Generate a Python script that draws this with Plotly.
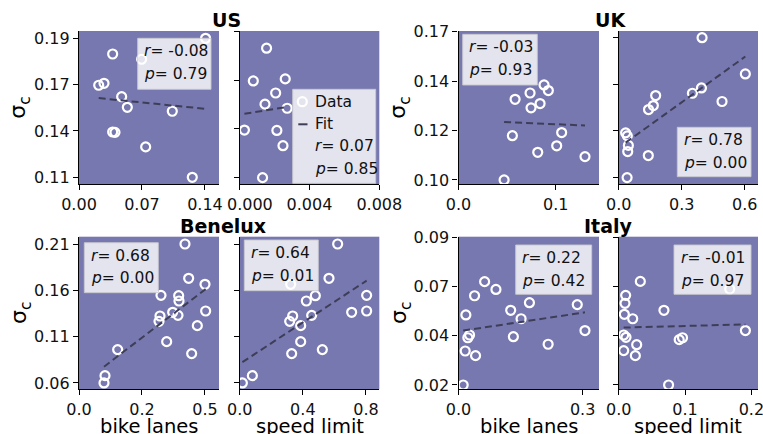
import numpy as np
import plotly.graph_objects as go

W, H = 763, 434

# ---------------- data ----------------
us_sigma = [0.1945, 0.1849, 0.1817, 0.1670, 0.1658, 0.1588, 0.1523, 0.1499, 0.1372, 0.1370, 0.1281, 0.1095]
us_bike = [0.1407, 0.0374, 0.0696, 0.0278, 0.0219, 0.0474, 0.0537, 0.1037, 0.0374, 0.0400, 0.0741, 0.1259]
us_speed = [None, 0.00154, None, 0.00261, 0.00078, 0.00206, 0.00145, 0.00272, 0.00027, 0.00213, 0.00248, 0.00131]

uk_sigma = [0.1660, 0.1489, 0.1423, 0.1398, 0.1387, 0.1359, 0.1340, 0.1321, 0.1211, 0.1197, 0.1152, 0.1123, 0.1104, 0.1000]
uk_bike = [None, None, 0.0880, 0.0924, 0.0736, 0.0582, 0.0839, 0.0746, 0.1061, 0.0554, 0.1010, 0.0815, 0.1301, 0.0469]
uk_speed = [0.397, 0.603, 0.394, 0.351, 0.176, 0.492, 0.165, 0.142, 0.033, 0.041, 0.046, 0.043, 0.141, 0.040]

ben_sigma = [0.2100, 0.1730, 0.1665, 0.1546, 0.1542, 0.1485, 0.1377, 0.1363, 0.1330, 0.1323, 0.1265,
             0.1219, 0.1046, 0.0960, 0.0917, 0.0679, 0.0600]
ben_bike = [0.4206, 0.4352, 0.5000, 0.3254, 0.3955, 0.3968, 0.5026, 0.3717, 0.3929, 0.3214, 0.3175,
            0.4696, 0.3479, 0.1534, 0.4471, 0.1032, 0.0992]
ben_speed = [0.6206, 0.5657, 0.3230, 0.8042, 0.4792, 0.4222, 0.8042, 0.7092, 0.4559, 0.3356, 0.3166,
             0.3863, 0.3863, 0.5235, 0.3293, 0.0802, 0.0169]

ita_sigma_bike = [0.0690, 0.0653, 0.0623, 0.0590, 0.0581, 0.0554, 0.0532, 0.0514, 0.0458, 0.0437,
                  0.0429, 0.0424, 0.0393, 0.0361, 0.0339, 0.0200]
ita_bike = [0.0631, 0.0905, 0.0388, 0.1714, 0.2870, 0.1261, 0.0178, 0.1512, 0.3056, 0.0267,
            0.1326, 0.0226, 0.2166, 0.0162, 0.0412, 0.0113]
ita_sigma_speed = [0.0691, 0.0655, 0.0625, 0.0587, 0.0554, 0.0535, 0.0514, 0.0458, 0.0437, 0.0426,
                   0.0424, 0.0415, 0.0391, 0.0363, 0.0339, 0.0200]
ita_speed = [0.0326, 0.1674, 0.0105, 0.0095, 0.0682, 0.0085, 0.0211, 0.1910, 0.0075, 0.0110,
             0.0962, 0.0912, 0.0271, 0.0075, 0.0251, 0.0752]

countries = ["US", "UK", "Benelux", "Italy"]
r_text = ["-0.08", "0.07", "-0.03", "0.78", "0.68", "0.64", "0.22", "-0.01"]
p_text = ["0.79", "0.85", "0.93", "0.00", "0.00", "0.01", "0.42", "0.97"]

x_tickvals = [[0, 0.07, 0.14], [0, 0.004, 0.008], [0, 0.1], [0, 0.3, 0.6],
              [0, 0.25, 0.5], [0, 0.4, 0.8], [0, 0.3], [0, 0.1, 0.2]]
x_ticktext = [["0.00", "0.07", "0.14"], ["\u2007\u20070.000", "0.004", "0.008"], ["0.0", "0.1"], ["0.0", "0.3", "0.6"],
              ["0.0", "0.2", "0.5"], ["0.0", "0.4", "0.8"], ["0.0", "0.3"], ["0.0", "0.1", "0.2"]]
y_tick_ends = [(0.1095, 0.1945), (0.1095, 0.1945), (0.100, 0.166), (0.100, 0.166),
               (0.06, 0.21), (0.06, 0.21), (0.02, 0.09), (0.02, 0.09)]

# ---------------- layout constants (pixels) ----------------
cols = [(79, 219), (239.7, 379.3), (458.5, 599), (618.7, 758)]
rows = [(31, 184.3), (236.7, 389.3)]
x_ranges = [[0, 0.1556], [0, 0.008], [0, 0.1445], [0, 0.6633],
            [0, 0.5556], [0, 0.8844], [0, 0.3395], [0, 0.21]]
y_ranges = [[0.10522, 0.19898], [0.10562, 0.1949], [0.09807, 0.1663], [0.09684, 0.16916],
            [0.05317, 0.2179], [0.05317, 0.2179], [0.01795, 0.0903], [0.01795, 0.0903]]
# stat boxes: left, top, right, bottom (px)
boxes = [(137.7, 38.3, 211, 89.3), None, (462.7, 34.3, 537.3, 85), (677.3, 127.3, 751, 176.7),
         (84.3, 242.7, 158.3, 292.7), (244.3, 240, 318.3, 290.7), (515.7, 245, 591.7, 294.3),
         (674, 245, 751, 294.3)]

BG = "#7878B1"
FIT = "#3e3e58"
FONT = "DejaVu Sans"
TXT = "#111111"

series = [
    (us_bike, us_sigma), (us_speed, us_sigma),
    (uk_bike, uk_sigma), (uk_speed, uk_sigma),
    (ben_bike, ben_sigma), (ben_speed, ben_sigma),
    (ita_bike, ita_sigma_bike), (ita_speed, ita_sigma_speed),
]


def px(xp):
    return xp / W


def py(yp):
    return 1 - yp / H


fig = go.Figure()
annotations = []
shapes = []
layout_axes = {}

for i, (xv, yv) in enumerate(series):
    r, c = divmod(i, 4)
    n = i + 1
    xs = "x" if n == 1 else f"x{n}"
    ys = "y" if n == 1 else f"y{n}"
    pts = [(a, b) for a, b in zip(xv, yv) if a is not None]
    xa = np.array([p[0] for p in pts])
    ya = np.array([p[1] for p in pts])

    fig.add_trace(go.Scatter(
        x=xa, y=ya, mode="markers", xaxis=xs, yaxis=ys, name="Data", showlegend=False,
        marker=dict(symbol="circle-open", size=9, color="white", line=dict(width=2.2, color="white")),
    ))
    k, b0 = np.polyfit(xa, ya, 1)
    xx = np.array([xa.min(), xa.max()])
    fig.add_trace(go.Scatter(
        x=xx, y=k * xx + b0, mode="lines", xaxis=xs, yaxis=ys, name="Fit", showlegend=False,
        line=dict(color=FIT, width=2, dash="7px,4px"),
    ))

    l, rr = cols[c]
    t, bt = rows[r]
    lo, hi = y_tick_ends[i]
    yt = np.linspace(lo, hi, 4)
    show_y = (c % 2 == 0)
    common = dict(showgrid=False, zeroline=False, showline=True, linecolor="black", linewidth=1.3,
                  ticks="outside", ticklen=5, tickwidth=1.2, tickcolor="black",
                  ticklabeloverflow="allow",
                  tickfont=dict(family=FONT, size=16, color=TXT), automargin=False, fixedrange=True)
    layout_axes["xaxis" if n == 1 else f"xaxis{n}"] = dict(
        domain=[px(l), px(rr)], anchor=ys, range=x_ranges[i],
        tickmode="array", tickvals=x_tickvals[i], ticktext=x_ticktext[i], **common)
    yax = dict(domain=[py(bt), py(t)], anchor=xs, range=y_ranges[i],
               tickmode="array", tickvals=list(yt), showticklabels=show_y, **common)
    if show_y:
        yax["ticktext"] = [f"{v:.2f}" for v in yt]
    layout_axes["yaxis" if n == 1 else f"yaxis{n}"] = yax

    box = boxes[i]
    if box is not None:
        bl, btop, br, bb = box
        shapes.append(dict(type="rect", xref="paper", yref="paper",
                           x0=px(bl), x1=px(br), y0=py(bb), y1=py(btop),
                           fillcolor="rgba(255,255,255,0.8)", line=dict(color="rgba(200,200,205,0.9)", width=1)))
        annotations.append(dict(xref="paper", yref="paper", x=px(bl + 4.5), y=py(btop + 12.8),
                                xanchor="left", yanchor="middle", showarrow=False,
                                text=f"<i>r</i>= {r_text[i]}", font=dict(family=FONT, size=15.5, color=TXT)))
        annotations.append(dict(xref="paper", yref="paper", x=px(bl + 4.5), y=py(btop + 35.5),
                                xanchor="left", yanchor="middle", showarrow=False,
                                text=f"<i>p</i>= {p_text[i]}", font=dict(family=FONT, size=15.5, color=TXT)))

# legend box in the US speed panel
lb = (292.7, 89.3, 375.7, 183.3)
shapes.append(dict(type="rect", xref="paper", yref="paper", x0=px(lb[0]), x1=px(lb[2]),
                   y0=py(lb[3]), y1=py(lb[1]), fillcolor="rgba(255,255,255,0.8)",
                   line=dict(color="rgba(200,200,205,0.9)", width=1)))
shapes.append(dict(type="circle", xref="paper", yref="paper", x0=px(302.3 - 4.5), x1=px(302.3 + 4.5),
                   y0=py(101.7 + 4.5), y1=py(101.7 - 4.5), line=dict(color="white", width=2.2)))
shapes.append(dict(type="line", xref="paper", yref="paper", x0=px(298.3), x1=px(307.5),
                   y0=py(124.3), y1=py(124.3), line=dict(color=FIT, width=2)))
for txt, yy in [("Data", 101.7), ("Fit", 124.3), (f"<i>r</i>= {r_text[1]}", 146), (f"<i>p</i>= {p_text[1]}", 168.5)]:
    annotations.append(dict(xref="paper", yref="paper", x=px(313.3), y=py(yy), xanchor="left", yanchor="middle",
                            showarrow=False, text=txt, font=dict(family=FONT, size=15.5, color=TXT)))

# country titles
for name, (cx, cy) in zip(countries, [(227, 20.5), (610, 20.5), (223, 225.5), (608, 225.5)]):
    annotations.append(dict(xref="paper", yref="paper", x=px(cx), y=py(cy), xanchor="center", yanchor="middle",
                            showarrow=False, text=f"<b>{name}</b>", font=dict(family=FONT, size=19, color="black")))

# axis titles
for yc in [(31 + 184.3) / 2, (236.7 + 389.3) / 2]:
    for xc in [20, 400]:
        annotations.append(dict(xref="paper", yref="paper", x=px(xc), y=py(yc), xanchor="center",
                                yanchor="middle", showarrow=False, textangle=-90, text="σ<sub>c</sub>",
                                font=dict(family=FONT, size=22, color="black")))
for c, lab in enumerate(["bike lanes", "speed limit", "bike lanes", "speed limit"]):
    l, rr = cols[c]
    annotations.append(dict(xref="paper", yref="paper", x=px((l + rr) / 2), y=py(426.5), xanchor="center",
                            yanchor="middle", showarrow=False, text=lab,
                            font=dict(family=FONT, size=19.5, color="black")))

fig.update_layout(
    width=W, height=H, margin=dict(l=0, r=0, t=0, b=0),
    paper_bgcolor="white", plot_bgcolor=BG, showlegend=False,
    annotations=annotations, shapes=shapes, **layout_axes,
)

fig.write_html("out.html", config={"displayModeBar": False})
